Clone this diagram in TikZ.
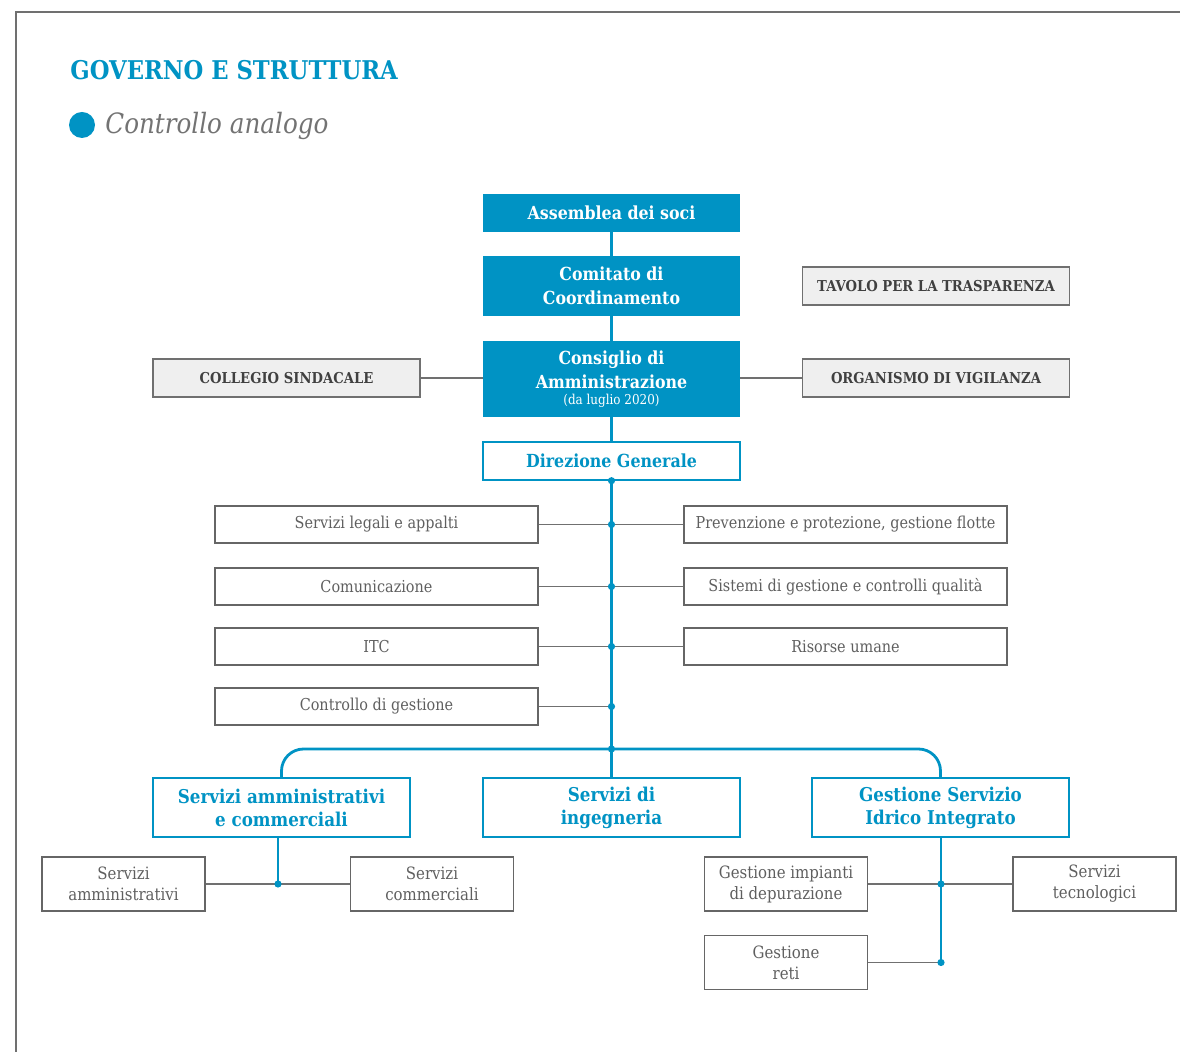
\documentclass[tikz,border=0pt]{standalone}
\usepackage{fontspec}
\setmainfont{DejaVu Serif}[FakeStretch=0.88]
\definecolor{acqua}{RGB}{0,147,196}
\definecolor{bordo}{RGB}{112,112,112}
\definecolor{fondo}{RGB}{239,239,239}
\definecolor{testo}{RGB}{95,95,95}
\tikzset{
  organo/.style={fill=acqua, text=white, font=\bfseries\fontsize{9}{12}\selectfont, align=center, minimum width=128.5pt, inner sep=0pt},
  direzione/.style={draw=acqua, line width=0.7pt, fill=white, text=acqua, font=\bfseries\fontsize{9}{11.5}\selectfont, align=center, minimum width=128.5pt, minimum height=19pt, inner sep=0pt},
  controllo/.style={draw=bordo, line width=0.7pt, fill=fondo, text=black!75, font=\bfseries\fontsize{7.5}{9}\selectfont, minimum width=133.5pt, minimum height=19pt, inner sep=0pt},
  ufficio/.style={draw=black!60, line width=0.55pt, text=testo, font=\fontsize{8.2}{9}\selectfont, minimum width=161.5pt, minimum height=18.5pt, inner sep=0pt},
  reparto/.style={draw=black!60, line width=0.55pt, text=testo, font=\fontsize{8.5}{10.5}\selectfont, align=center, minimum width=81.5pt, minimum height=27pt, inner sep=0pt},
  ramo/.style={acqua, line width=1.4pt},
  filo/.style={bordo, line width=0.7pt},
  snodo/.style={circle, fill=acqua, inner sep=0pt, minimum size=3.6pt}
}

\begin{document}
\begin{tikzpicture}[x=0.5pt, y=-0.5pt]
  \useasboundingbox (0,0) rectangle (1180,1052);
  \draw[bordo, line width=0.8pt] (1180,12) -- (16,12) -- (16,1052);

  % intestazione
  \node[anchor=base west, inner sep=0pt, text=acqua, font=\bfseries\fontsize{12.9}{15}\selectfont] (titolo) at (70,80) {GOVERNO E STRUTTURA};
  \fill[acqua] (82,125) circle (6.5pt);
  \node[anchor=base west, inner sep=0pt, text=black!55, font=\itshape\fontsize{14}{16}\selectfont] (sottotitolo) at (105,134) {Controllo analogo};

  % organi
  \node[organo, minimum height=19pt] (assemblea) at (611.5,213) {Assemblea dei soci};
  \node[organo, minimum height=30pt] (comitato) at (611.5,286) {Comitato di\\Coordinamento};
  \node[organo, minimum height=38pt] (consiglio) at (611.5,379) {Consiglio di\\Amministrazione\\[-4pt]{\mdseries\fontsize{6.8}{7.5}\selectfont (da luglio 2020)}};
  \node[direzione] (direzione) at (611.5,461) {Direzione Generale};

  \node[controllo] (tavolo) at (936,286) {TAVOLO PER LA TRASPARENZA};
  \node[controllo] (collegio) at (286.5,378) {COLLEGIO SINDACALE};
  \node[controllo] (vigilanza) at (936,378) {ORGANISMO DI VIGILANZA};

  \draw[filo] (collegio.east) -- (collegio.east -| consiglio.west);
  \draw[filo] (vigilanza.west) -- (vigilanza.west -| consiglio.east);
  \draw[ramo] (assemblea.south) -- (comitato.north);
  \draw[ramo] (comitato.south) -- (consiglio.north);
  \draw[ramo] (consiglio.south) -- (direzione.north);

  % staff
  \node[ufficio] (legali) at (376.5,524.5) {Servizi legali e appalti};
  \node[ufficio] (comunicazione) at (376.5,586.5) {Comunicazione};
  \node[ufficio] (itc) at (376.5,646.5) {ITC};
  \node[ufficio] (cdg) at (376.5,706.5) {Controllo di gestione};
  \node[ufficio] (prevenzione) at (845.5,524.5) {Prevenzione e protezione, gestione flotte};
  \node[ufficio] (qualita) at (845.5,586.5) {Sistemi di gestione e controlli qualità};
  \node[ufficio] (risorse) at (845.5,646.5) {Risorse umane};

  \coordinate (bus) at (611.5,749);
  \draw[filo] (legali.east) -- (prevenzione.west);
  \draw[filo] (comunicazione.east) -- (qualita.west);
  \draw[filo] (itc.east) -- (risorse.west);
  \draw[filo] (cdg.east) -- (cdg.east -| bus);

  % aree
  \node[direzione, minimum height=29.5pt, font=\bfseries\fontsize{9.5}{11.5}\selectfont] (amministrazione) at (281.5,807.5) {Servizi amministrativi\\e commerciali};
  \node[direzione, minimum height=29.5pt, font=\bfseries\fontsize{9.5}{11.5}\selectfont] (ingegneria) at (611.5,807.5) {Servizi di\\ingegneria};
  \node[direzione, minimum height=29.5pt, font=\bfseries\fontsize{9.5}{11.5}\selectfont] (idrico) at (940.5,807.5) {Gestione Servizio\\Idrico Integrato};

  \draw[ramo] (direzione.south) -- (ingegneria.north);
  \draw[ramo, rounded corners=11pt] (amministrazione.north) -- (amministrazione.north |- bus) -- (idrico.north |- bus) -- (idrico.north);

  \foreach \u in {direzione.south, legali.east -| bus, comunicazione.east -| bus, itc.east -| bus, cdg.east -| bus, bus}
    \node[snodo] at (\u) {};

  % reparti
  \node[reparto] (amministrativi) at (123.5,884) {Servizi\\amministrativi};
  \node[reparto] (commerciali) at (432,884) {Servizi\\commerciali};
  \node[reparto] (depurazione) at (786,884) {Gestione impianti\\di depurazione};
  \node[reparto] (tecnologici) at (1094.5,884) {Servizi\\tecnologici};
  \node[reparto] (reti) at (786,962.5) {Gestione\\reti};

  \coordinate (ac) at (278,884);
  \coordinate (gi) at (941,884);
  \coordinate (gr) at (941,962.5);
  \draw[filo] (amministrativi.east) -- (commerciali.west);
  \draw[filo] (depurazione.east) -- (tecnologici.west);
  \draw[filo] (reti.east) -- (gr);
  \draw[ramo] (amministrazione.south -| ac) -- (ac);
  \draw[ramo] (idrico.south -| gi) -- (gr);
  \foreach \u in {ac, gi, gr}
    \node[snodo] at (\u) {};
\end{tikzpicture}
\end{document}
